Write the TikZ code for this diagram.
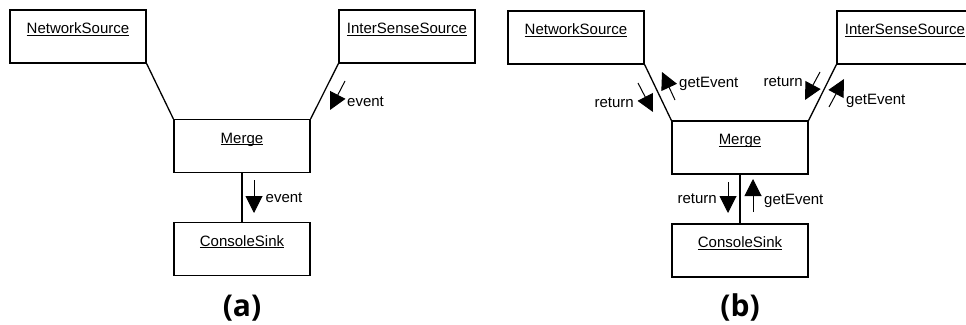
\documentclass[tikz,border=0pt]{standalone}
\usepackage{fontspec}
\setmainfont{Liberation Sans}
\newfontfamily\capfont{Open Sans}
\usetikzlibrary{arrows.meta}
\newcommand\uln[1]{\setbox0=\hbox{#1}\rlap{\copy0}\rule[-2.2pt]{\wd0}{0.9pt}}
\begin{document}
\begin{tikzpicture}[x=1pt,y=-1pt,
  umlbox/.style={draw,line width=1.3pt,minimum width=136pt,inner xsep=0pt,inner ysep=0pt,
    text height=23.5pt,text depth=29.5pt,font=\fontsize{15pt}{18pt}\selectfont},
  conn/.style={line width=1.3pt},
  msg/.style={line width=1pt,-{Triangle[length=17pt,width=17pt]}},
  lbl/.style={inner sep=0pt,font=\fontsize{15pt}{18pt}\selectfont},
  captxt/.style={inner sep=0pt,font=\capfont\bfseries\fontsize{30pt}{36pt}\selectfont}]
\useasboundingbox (0,0) rectangle (966,324);
\clip (0,0) rectangle (966,324);
\fill[white] (0,0) rectangle (966,324);

% ---------- (a) ----------
\node[umlbox] (nsA) at (78,36.5) {\uln{NetworkSource}};
\node[umlbox] (isA) at (407,36.5) {\uln{InterSenseSource}};
\node[umlbox] (mA) at (242,146) {\uln{Merge}};
\node[umlbox] (csA) at (242,249) {\uln{ConsoleSink}};
\draw[conn] (nsA.south east) -- (mA.north west);
\draw[conn] (isA.south west) -- (mA.north east);
\draw[conn] (mA.south) -- (csA.north);

\coordinate (a1s) at (345,81); \coordinate (a1e) at (330,110);
\draw[msg] (a1s) -- (a1e);
\node[lbl,anchor=base west] (la1) at (347,106) {event};
\coordinate (a2s) at (254,180); \coordinate (a2e) at (254,213);
\draw[msg] (a2s) -- (a2e);
\node[lbl,anchor=base west] (la2) at (265.5,202) {event};

\node[captxt,anchor=base] (capA) at (242,316) {(a)};

% ---------- (b) ----------
\node[umlbox] (nsB) at (576,37.5) {\uln{NetworkSource}};
\node[umlbox] (isB) at (905,37.5) {\uln{InterSenseSource}};
\node[umlbox] (mB) at (740,147.5) {\uln{Merge}};
\node[umlbox] (csB) at (740,250.5) {\uln{ConsoleSink}};
\draw[conn] (nsB.south east) -- (mB.north west);
\draw[conn] (isB.south west) -- (mB.north east);
\draw[conn] (mB.south) -- (csB.north);

\coordinate (b1s) at (675,100); \coordinate (b1e) at (662,72);
\draw[msg] (b1s) -- (b1e);
\node[lbl,anchor=base west] (lb1) at (679,87) {getEvent};
\coordinate (b2s) at (638,83); \coordinate (b2e) at (653,112);
\draw[msg] (b2s) -- (b2e);
\node[lbl,anchor=base east] (lb2) at (634,107) {return};

\coordinate (b3s) at (820,72); \coordinate (b3e) at (805,100);
\draw[msg] (b3s) -- (b3e);
\node[lbl,anchor=base east] (lb3) at (803,86.5) {return};
\coordinate (b4s) at (829,107); \coordinate (b4e) at (844,79);
\draw[msg] (b4s) -- (b4e);
\node[lbl,anchor=base west] (lb4) at (846,104.5) {getEvent};

\coordinate (b5s) at (728,182); \coordinate (b5e) at (728,213);
\draw[msg] (b5s) -- (b5e);
\node[lbl,anchor=base east] (lb5) at (717,203) {return};
\coordinate (b6s) at (753,212); \coordinate (b6e) at (753,179);
\draw[msg] (b6s) -- (b6e);
\node[lbl,anchor=base west] (lb6) at (764,204) {getEvent};

\node[captxt,anchor=base] (capB) at (740,316) {(b)};
\end{tikzpicture}
\end{document}
